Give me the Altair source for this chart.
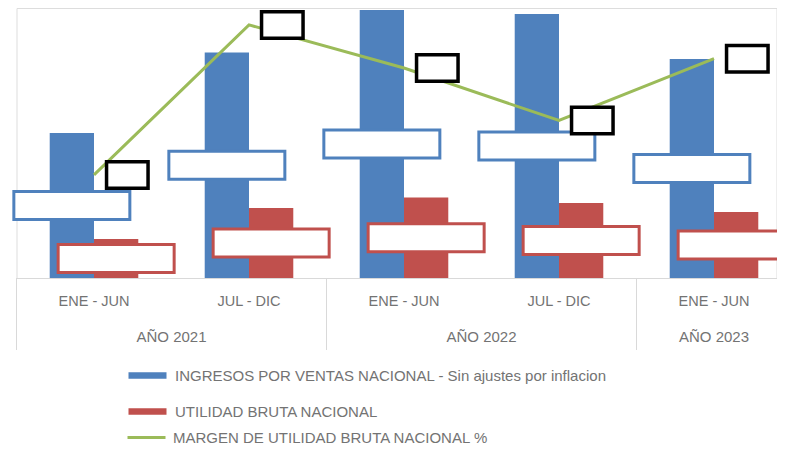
import altair as alt
import pandas as pd

# ---------------- data ----------------
periods = ["ENE - JUN", "JUL - DIC", "ENE - JUN", "JUL - DIC", "ENE - JUN"]
years = ["AÑO 2021", "AÑO 2021", "AÑO 2022", "AÑO 2022", "AÑO 2023"]
ingresos = [145.0, 225.5, 268.0, 264.0, 219.0]      # relative units
utilidad = [39.0, 70.0, 80.5, 75.0, 66.0]
margen = [27.0, 31.0, 29.85, 28.45, 30.1]            # %

S_ING = "INGRESOS POR VENTAS NACIONAL - Sin ajustes por inflacion"
S_UTI = "UTILIDAD BRUTA NACIONAL"
S_MAR = "MARGEN DE UTILIDAD BRUTA NACIONAL %"

BLUE, RED, GREEN = "#4F81BD", "#C0504D", "#9BBB59"
GRAY_TXT = "#737373"
GRID = "#D9D9D9"
FONT = "Liberation Sans"

keys = [f"{y}|{p}" for y, p in zip(years, periods)]

bars_df = pd.DataFrame(
    {"key": keys * 2,
     "serie": [S_ING] * len(keys) + [S_UTI] * len(keys),
     "value": ingresos + utilidad}
)
ing_df = pd.DataFrame({"key": keys, "mid": [v / 2 for v in ingresos]})
uti_df = pd.DataFrame({"key": keys, "mid": [v / 2 for v in utilidad]})
mar_df = pd.DataFrame({"key": keys, "margen": margen, "serie": [S_MAR] * len(keys)})

# year groups (start / end index in category units)
y_names, y_start, y_end = [], [], []
for i, y in enumerate(years):
    if not y_names or y_names[-1] != y:
        y_names.append(y); y_start.append(i); y_end.append(i + 1)
    else:
        y_end[-1] = i + 1
years_df = pd.DataFrame({"year": y_names, "start": y_start,
                         "center": [(a + b) / 2 for a, b in zip(y_start, y_end)]})

# ---------------- scales ----------------
N = len(keys)
RANGE = [0, 775]
X_BAND = alt.Scale(domain=keys, range=RANGE, paddingInner=0, paddingOuter=0)
X_LIN = alt.Scale(domain=[0, N], range=RANGE, nice=False, zero=False)
Y_BAR = alt.Scale(domain=[0, 270], nice=False)
Y_MAR = alt.Scale(domain=[24.25, 31.45], nice=False, zero=False)

BOX_WIDE = "M-1.16,-0.28H1.16V0.28H-1.16Z"
BOX_SMALL = "M-0.415,-0.265H0.415V0.265H-0.415Z"
LEG_RECT = "M-3.8,-0.66H3.8V0.66H-3.8Z"

x_axis = alt.Axis(
    labelExpr="split(datum.label, '|')[1]", ticks=False, title=None, labelAngle=0,
    domainColor=GRID, domainWidth=1, labelFont=FONT, labelFontSize=14.5,
    labelColor=GRAY_TXT, labelPadding=16, grid=False,
)

bars = alt.Chart(bars_df).mark_bar().encode(
    x=alt.X("key:N", scale=X_BAND, axis=x_axis, sort=keys),
    xOffset=alt.XOffset("serie:N", scale=alt.Scale(domain=[S_ING, S_UTI], paddingOuter=0.75, paddingInner=0)),
    y=alt.Y("value:Q", scale=Y_BAR, axis=None),
    color=alt.Color("serie:N", scale=alt.Scale(domain=[S_ING, S_UTI], range=[BLUE, RED]),
                    legend=alt.Legend(orient="none", legendX=123.5, legendY=360, direction="vertical",
                                      title=None, symbolType=LEG_RECT, symbolSize=100,
                                      symbolStrokeWidth=0, symbolOpacity=1, labelFont=FONT,
                                      labelFontSize=15, labelColor=GRAY_TXT, labelOffset=20,
                                      rowPadding=20, labelLimit=600)),
)

line = alt.Chart(mar_df).mark_line(strokeWidth=3).encode(
    x=alt.X("key:N", scale=X_BAND, axis=None, sort=keys),
    y=alt.Y("margen:Q", scale=Y_MAR, axis=None),
    color=alt.Color("serie:N", scale=alt.Scale(domain=[S_MAR], range=[GREEN]),
                    legend=alt.Legend(orient="none", legendX=109.5, legendY=409, direction="vertical",
                                      title=None, symbolType="stroke", symbolSize=1444,
                                      symbolStrokeWidth=3, symbolOpacity=1, labelFont=FONT,
                                      labelFontSize=15, labelColor=GRAY_TXT, labelOffset=6,
                                      labelLimit=600)),
)

def box_layer(df, field, scale, shape, stroke, sw, dx):
    return alt.Chart(df).mark_point(
        shape=shape, size=10000, filled=True, fill="white", stroke=stroke,
        strokeWidth=sw, opacity=1, xOffset=dx,
    ).encode(
        x=alt.X("key:N", scale=X_BAND, axis=None, sort=keys),
        y=alt.Y(f"{field}:Q", scale=scale, axis=None),
    )

blue_boxes = box_layer(ing_df, "mid", Y_BAR, BOX_WIDE, BLUE, 3, -22.15)
red_boxes = box_layer(uti_df, "mid", Y_BAR, BOX_WIDE, RED, 3, 22.15)
black_boxes = box_layer(mar_df, "margen", Y_MAR, BOX_SMALL, "black", 3.5, 33.3)

dividers = alt.Chart(years_df).mark_rule(color=GRID, strokeWidth=1).encode(
    x=alt.X("start:Q", scale=X_LIN, axis=None),
    y=alt.value(270), y2=alt.value(342),
)
year_text = alt.Chart(years_df).mark_text(
    font=FONT, fontSize=15, color=GRAY_TXT, baseline="middle", align="center"
).encode(
    x=alt.X("center:Q", scale=X_LIN, axis=None),
    y=alt.value(329),
    text="year:N",
)

chart = alt.layer(
    bars, line, blue_boxes, red_boxes, black_boxes, dividers, year_text
).resolve_scale(
    x="independent", y="independent", color="independent"
).properties(
    width=760, height=270,
    autosize=alt.AutoSizeParams(type="none"),
    padding={"left": 8.5, "top": 0, "right": 0, "bottom": 166},
).configure_view(stroke=None).configure(background="white")

chart.save("out.html", embed_options={"renderer": "svg", "actions": False})
